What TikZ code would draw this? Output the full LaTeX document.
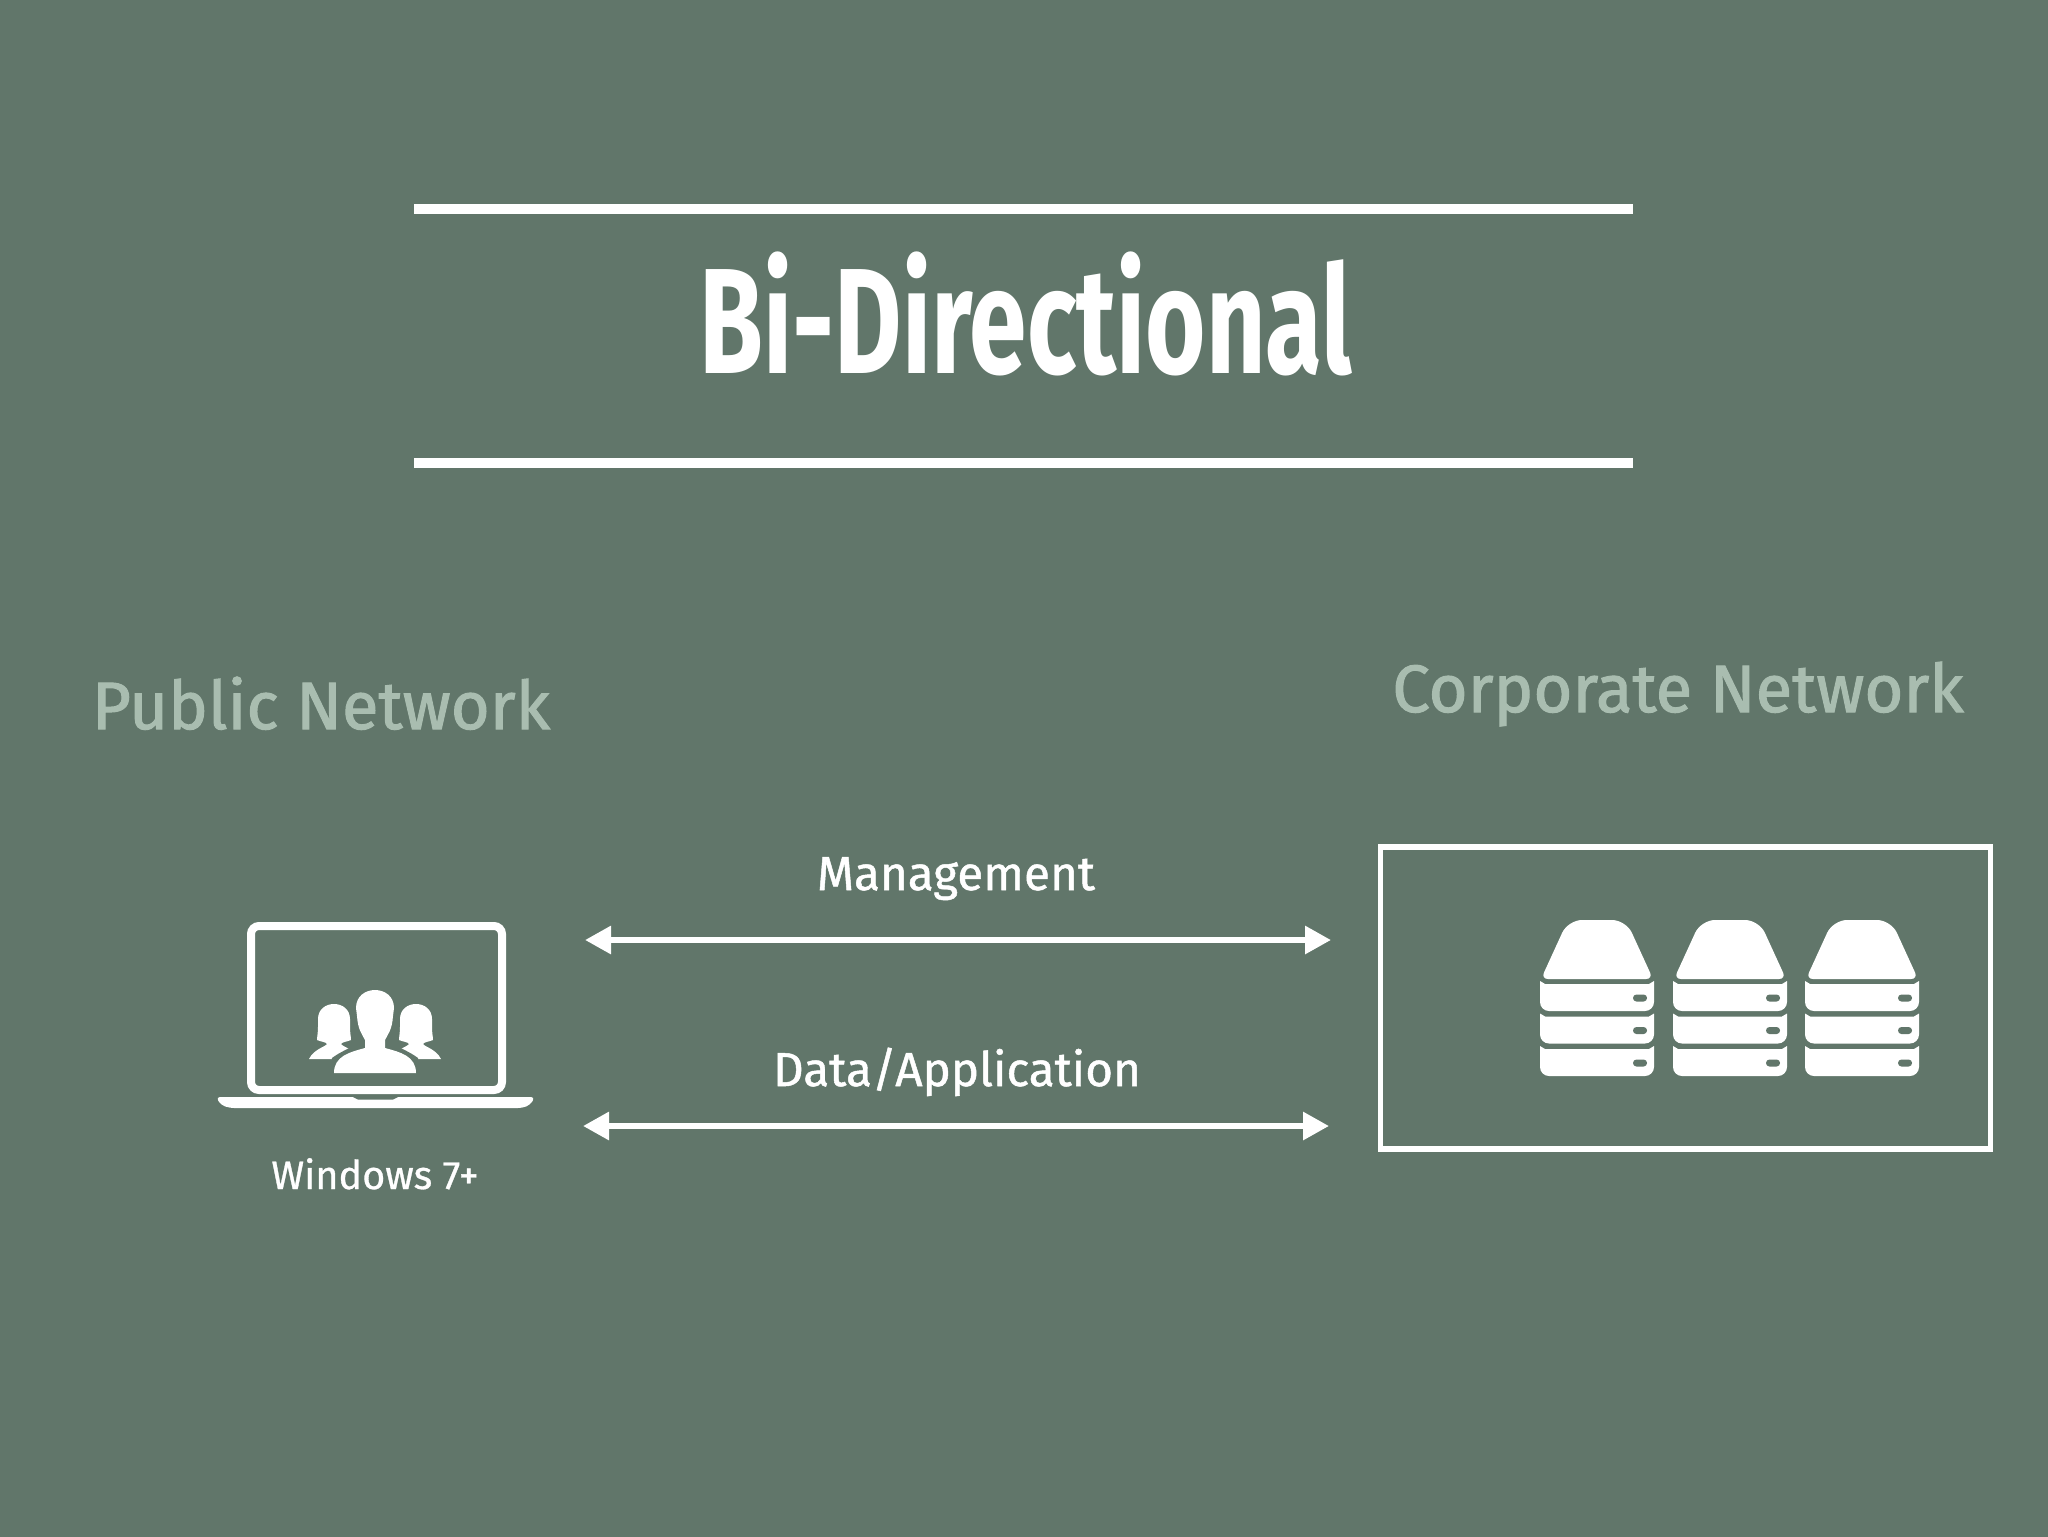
\documentclass[tikz,border=0pt]{standalone}
\usepackage{fontspec}
\setmainfont{Fira Sans}
\usetikzlibrary{arrows.meta}
\definecolor{slidegreen}{HTML}{61766A}
\definecolor{palegreen}{HTML}{A9BDB0}
\tikzset{
  rulebar/.style={draw=white,line width=5pt},
  dataarrow/.style={draw=white,line width=3pt,{Triangle[length=13pt,width=13.5pt]}-{Triangle[length=13pt,width=13.5pt]}},
  zonelabel/.style={anchor=base,text=palegreen,font=\fontsize{33.500}{33.500}\selectfont\addfontfeature{FakeBold=1.500}},
  linklabel/.style={anchor=base,text=white,font=\fontsize{23.800}{24}\selectfont\addfontfeature{FakeBold=1}},
  pics/drawer/.style={code={
    \fill[white] (-57,61) to[bend right=6] (-52,64) -- (52,64) to[bend right=6] (57,61) -- (57,82)
      arc[start angle=0,end angle=90,radius=9] -- (-48,91)
      arc[start angle=90,end angle=180,radius=9] -- cycle;
    \fill[slidegreen,rounded corners=1.700pt] (36,74.500) rectangle (50,81.500);
  }},
  pics/serverstack/.style={code={
    \fill[white,rounded corners=7pt] (-29,0) -- (29,0) [rounded corners=3.500pt] -- (56,59) -- (-56,59) [rounded corners=7pt] -- cycle;
    \pic at (0,0) {drawer};
    \pic at (0,32.500) {drawer};
    \pic at (0,65) {drawer};
  }},
  pics/womanicon/.style={code={
    \fill[white] (-16,-40) .. controls (-16,-60) and (16,-60) .. (16,-40) -- (16,-32)
      .. controls (16,-26) and (17,-22) .. (17,-19) .. controls (12,-17) and (8,-17) .. (7,-15)
      .. controls (9,-12) and (20,-10) .. (25,0) -- (-25,0) .. controls (-20,-10) and (-9,-12) .. (-7,-15)
      .. controls (-8,-17) and (-12,-17) .. (-17,-19) .. controls (-17,-22) and (-16,-26) .. (-16,-32) -- cycle;
  }}
}
\begin{document}
\begin{tikzpicture}[x=.5pt,y=-.5pt]
  \useasboundingbox (0,0) rectangle (2048,1536);
  \fill[slidegreen] (-4,-4) rectangle (2052,1540);

  % title
  \coordinate (ruletopl) at (414,209);
  \coordinate (ruletopr) at (1633,209);
  \coordinate (rulebotl) at (414,463);
  \coordinate (rulebotr) at (1633,463);
  \path[rulebar] (ruletopl) -- (ruletopr);
  \path[rulebar] (rulebotl) -- (rulebotr);
  \node (title) [anchor=base,text=white,xscale=.69,font=\fontsize{75}{75}\selectfont\bfseries] at (1026,373) {Bi-Directional};

  % zones
  \node (public) [zonelabel] at (321,729) {Public Network};
  \node (corporate) [zonelabel] at (1678,712) {Corporate Network};

  % laptop
  \draw[white,line width=4pt,rounded corners=4pt] (251,926) rectangle (502,1090);
  \fill[white,rounded corners=2pt] (216,1097) -- (535,1097) -- (530,1105) -- (522,1108) -- (230,1108) -- (221,1105) -- cycle;
  \fill[slidegreen] (353,1097) -- (398,1097) -- (393,1099.500) -- (358,1099.500) -- cycle;
  \node (windows) [linklabel,font=\fontsize{19.800}{20}\selectfont\addfontfeature{FakeBold=.8}] at (375,1189) {Windows 7+};

  % people
  \pic at (334,1059) {womanicon};
  \pic at (416,1059) {womanicon};
  \fill[slidegreen] (330,1073) -- (332,1058) .. controls (340,1052) and (350,1048) .. (357,1044) -- (393,1044)
    .. controls (400,1048) and (410,1052) .. (418,1058) -- (420,1073) -- cycle;
  \fill[white] (356,1008) .. controls (356,984) and (394,984) .. (394,1008) -- (393,1016)
    .. controls (392,1030) and (388,1034) .. (385,1040) -- (385,1048) .. controls (400,1052) and (416,1056) .. (416,1073)
    -- (334,1073) .. controls (334,1056) and (350,1052) .. (365,1048) -- (365,1040)
    .. controls (362,1034) and (358,1030) .. (357,1016) -- cycle;

  % servers
  \node (corpbox) [draw=white,line width=2.750pt,minimum width=305pt,minimum height=151pt,inner sep=0pt] at (1685.500,998) {};
  \pic at (1597,920) {serverstack};
  \pic at (1730,920) {serverstack};
  \pic at (1862,920) {serverstack};

  % links
  \coordinate (mgmtl) at (585,940);
  \coordinate (mgmtr) at (1331,940);
  \coordinate (datal) at (583,1126);
  \coordinate (datar) at (1329,1126);
  \path[dataarrow] (mgmtl) -- (mgmtr);
  \path[dataarrow] (datal) -- (datar);
  \node (mgmt) [linklabel] at (956,890) {Management};
  \node (data) [linklabel] at (957,1086) {Data/Application};
\end{tikzpicture}
\end{document}
